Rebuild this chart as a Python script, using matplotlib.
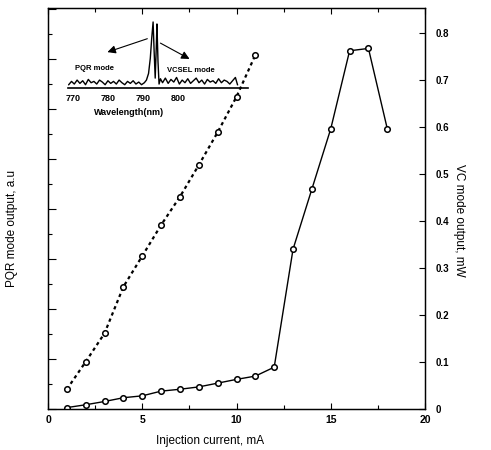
import matplotlib
matplotlib.use("Agg")
import matplotlib.pyplot as plt
from matplotlib.ticker import MultipleLocator

plt.rcParams['font.family'] = ['Liberation Sans', 'DejaVu Sans']

# injection current, mA
current_pqr = [1, 2, 3, 4, 5, 6, 7, 8, 9, 10, 11]
pqr_output = [0.79, 1.89, 3.03, 4.89, 6.12, 7.36, 8.49, 9.76, 11.07, 12.49, 14.16]  # a.u.

current_vc = [1, 2, 3, 4, 5, 6, 7, 8, 9, 10, 11, 12, 13, 14, 15, 16, 17, 18]
vc_output = [0.003, 0.009, 0.016, 0.024, 0.028, 0.038, 0.042, 0.047, 0.055, 0.063,
             0.070, 0.089, 0.340, 0.468, 0.596, 0.762, 0.767, 0.596]  # mW

# inset spectrum
wavelength = [768.8, 769.6, 770.4, 771.2, 772.0, 772.8, 773.6, 774.4, 775.2, 776.0,
              776.8, 777.6, 778.4, 779.2, 780.0, 780.8, 781.6, 782.4, 783.2, 784.0,
              784.8, 785.6, 786.4, 787.2, 788.0, 788.8, 789.6, 790.4, 791.0, 791.6,
              792.1, 792.5, 792.9, 793.2, 793.5, 793.8, 794.0, 794.3, 794.6, 795.0,
              795.6, 796.4, 797.2, 798.0, 798.8, 799.6, 800.4, 801.2, 802.0, 802.8,
              803.6, 804.4, 805.2, 806.0, 806.8, 807.6, 808.4, 809.2, 810.0, 810.8,
              811.6, 812.4, 813.2, 814.0, 814.8, 815.6, 816.4, 817.0]
intensity = [0.05, 0.10, 0.06, 0.12, 0.07, 0.11, 0.05, 0.13, 0.08, 0.10,
             0.06, 0.12, 0.09, 0.05, 0.11, 0.07, 0.10, 0.06, 0.12, 0.08,
             0.05, 0.10, 0.07, 0.11, 0.06, 0.09, 0.05, 0.08, 0.12, 0.22,
             0.45, 0.75, 1.00, 0.55, 0.15, 0.60, 0.97, 0.40, 0.06, 0.14,
             0.08, 0.15, 0.07, 0.13, 0.09, 0.16, 0.06, 0.12, 0.08, 0.14,
             0.07, 0.11, 0.15, 0.08, 0.12, 0.06, 0.13, 0.09, 0.11, 0.07,
             0.14, 0.08, 0.12, 0.10, 0.06, 0.11, 0.16, 0.05]
wl_ticks = [770, 780, 790, 800]

W, H = 491, 450
fig = plt.figure(figsize=(W / 100, H / 100), dpi=100)
ax = fig.add_axes([48 / W, 1 - 409 / H, 377 / W, 401 / H])
ax2 = ax.twinx()

ax.plot(current_pqr, pqr_output, color='black', lw=1.6, ls=(0, (1.5, 1.5)),
        marker='o', ms=4.0, mfc='white', mec='black', mew=1.1)
ax2.plot(current_vc, vc_output, color='black', lw=1.0,
         marker='o', ms=4.0, mfc='white', mec='black', mew=1.1)

ax.set_xlim(0, 20)
ax.set_ylim(0, 16.04)
ax2.set_ylim(0, 0.853)

ax.xaxis.set_major_locator(MultipleLocator(5))
ax.xaxis.set_minor_locator(MultipleLocator(2.5))
ax.yaxis.set_major_locator(MultipleLocator(2))
ax.yaxis.set_minor_locator(MultipleLocator(1))
ax.set_yticklabels([])
ax.tick_params(axis='both', which='both', direction='in', top=True)
ax.tick_params(axis='x', which='major', length=4, width=0.8, labelsize=7.5, pad=4)
ax.tick_params(axis='y', which='major', length=6, width=0.8)
ax.tick_params(which='minor', length=3, width=0.8)
ax.tick_params(axis='y', right=False)
for lab in ax.get_xticklabels():
    lab.set_fontweight('bold')

ax2.set_yticks([0, 0.1, 0.2, 0.3, 0.4, 0.5, 0.6, 0.7, 0.8])
ax2.set_yticklabels(['0', '0.1', '0.2', '0.3', '0.4', '0.5', '0.6', '0.7', '0.8'],
                    fontsize=7, fontweight='bold')
ax2.tick_params(axis='y', direction='in', length=4, width=0.8, pad=8)

for a in (ax, ax2):
    for s in a.spines.values():
        s.set_linewidth(0.9)

ax.set_xlabel('Injection current, mA', fontsize=8.5, labelpad=6)
ax.xaxis.set_label_coords(0.43, -0.065)
ax.set_ylabel('PQR mode output, a.u', fontsize=8.5)
ax.yaxis.set_label_coords(-0.08, 0.45)
ax2.set_ylabel('VC mode output, mW', fontsize=8.5, rotation=270)
ax2.yaxis.set_label_coords(1.105, 0.47)

# inset: emission spectrum
ins = fig.add_axes([68 / W, 1 - 88 / H, 180 / W, 68 / H])
ins.set_facecolor('none')
ins.plot(wavelength, intensity, color='black', lw=1.0)
ins.set_xlim(768.6, 820)
ins.set_ylim(0, 1.03)
for side in ('top', 'right', 'left'):
    ins.spines[side].set_visible(False)
ins.spines['bottom'].set_linewidth(1.2)
ins.set_yticks([])
ins.set_xticks(wl_ticks)
ins.set_xticklabels([str(w) for w in wl_ticks], fontsize=6.5, fontweight='bold')
ins.tick_params(axis='x', length=0, pad=4)
ins.set_xlabel('Wavelength(nm)', fontsize=6.5, fontweight='bold')
ins.xaxis.set_label_coords(0.34, -0.30)

ins.annotate('', xy=(779.1, 0.53), xytext=(792.0, 0.76),
             arrowprops=dict(arrowstyle='-|>', mutation_scale=12, color='black', lw=0.8))
ins.annotate('', xy=(804.0, 0.42), xytext=(794.3, 0.70),
             arrowprops=dict(arrowstyle='-|>', mutation_scale=12, color='black', lw=0.8))
ins.text(770.6, 0.30, 'PQR mode', fontsize=5.5, fontweight='bold', va='center')
ins.text(796.9, 0.27, 'VCSEL mode', fontsize=5.5, fontweight='bold', va='center')

fig.savefig('out.png', dpi=100)
